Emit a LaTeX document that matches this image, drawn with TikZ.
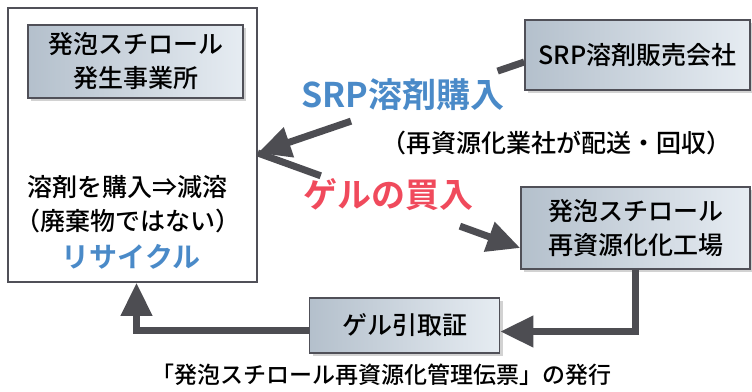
\documentclass[tikz,border=0pt]{standalone}
\usepackage{fontspec}
\newfontfamily\jp{Noto Sans CJK JP Medium}[BoldFont={Noto Sans CJK JP Bold}]
\usetikzlibrary{positioning, arrows.meta, shadows, calc}
\definecolor{flowgray}{HTML}{4D4D52}
\definecolor{boxline}{HTML}{505058}
\definecolor{boxdark}{HTML}{B4C0CC}
\definecolor{boxlight}{HTML}{E6ECF2}
\definecolor{jblue}{HTML}{4A8AC8}
\definecolor{jred}{HTML}{F04A5C}

\begin{document}
\begin{tikzpicture}[x=1pt, y=-1pt, font=\jp\fontsize{25}{34}\selectfont,
    box/.style={draw=boxline, line width=1.5pt, left color=boxdark, right color=boxlight,
        drop shadow={shadow xshift=3pt, shadow yshift=-3pt, fill=gray!70}, align=center, inner sep=0pt},
    flow/.style={draw=flowgray, line width=7pt, -{Triangle[length=33pt,width=30pt]}},
    plain/.style={draw=flowgray, line width=7pt},
    tag/.style={font=\jp\bfseries\fontsize{34}{40}\selectfont, inner sep=0pt}]
    \useasboundingbox (0,0) rectangle (752,391);
    \node[draw=boxline, line width=1.5pt, minimum width=249pt, minimum height=274pt] (box_office) at (132.5,145) {};
    \node[box, minimum width=215pt, minimum height=73pt] (box_gen) at (135.5,61.5) {発泡スチロール\\発生事業所};
    \node[box, minimum width=225pt, minimum height=70pt] (box_srp) at (637.5,55) {SRP溶剤販売会社};
    \node[box, minimum width=229pt, minimum height=82pt] (box_factory) at (635.5,228) {発泡スチロール\\再資源化化工場};
    \node[box, minimum width=190pt, minimum height=55pt] (box_gel) at (404.5,325.5) {ゲル引取証};
    \node[align=center] (txt_office) at (128,204.5) {溶剤を購入⇒減溶\\（廃棄物ではない）};
    \node[font=\jp\bfseries\fontsize{28}{34}\selectfont, text=jblue] (txt_recycle) at (131,257) {リサイクル};
    \coordinate (in_pt) at ([yshift=-8pt]box_office.east);
    \coordinate (srp_out) at ([yshift=-7pt]box_srp.west);
    \coordinate (fac_in) at ([yshift=-20pt]box_factory.west);
    \draw[plain] (in_pt) -- ($(in_pt)!0.24!(fac_in)$);
    \draw[flow] ($(in_pt)!0.77!(fac_in)$) -- (fac_in);
    \draw[plain] (srp_out) -- ($(srp_out)!0.10!(in_pt)$);
    \draw[flow] ($(srp_out)!0.65!(in_pt)$) -- (in_pt);
    \draw[flow] (box_factory.south) |- ([yshift=-6pt]box_gel.east);
    \draw[flow] ([yshift=-5pt]box_gel.west) -| ([xshift=4pt]box_office.south);
    \node[tag, text=jblue] (lbl_buy) at (403,95) {SRP溶剤購入};
    \node (lbl_note) at (556,143) {（再資源化業社が配送・回収）};
    \node[tag, text=jred] (lbl_gel) at (388,195) {ゲルの買入};
    \node[font=\jp\fontsize{23}{28}\selectfont] (lbl_slip) at (381,375) {「発泡スチロール再資源化管理伝票」の発行};
\end{tikzpicture}
\end{document}
